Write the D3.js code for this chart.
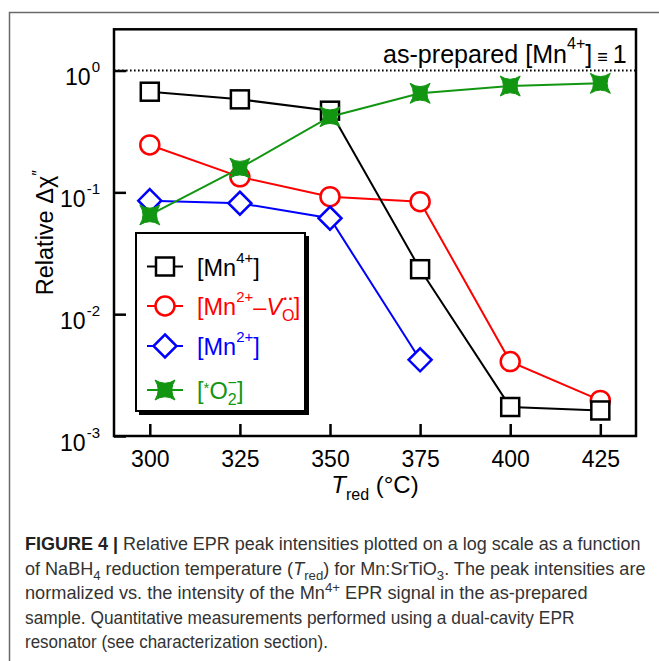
<!DOCTYPE html>
<html>
<head>
<meta charset="utf-8">
<script src="https://cdn.jsdelivr.net/npm/d3@7"></script>
<style>
  html, body { margin: 0; padding: 0; background: #fff; }
  svg { display: block; }
  text { font-family: "Liberation Sans", Arial, Helvetica, sans-serif; }
</style>
</head>
<body>
<div id="chart"></div>
<script>
// ---------- data ----------
const temps = [300, 325, 350, 375, 400, 425];
const mn4 = [0.670, 0.580, 0.468, 0.0234, 0.00173, 0.00162];
const mn2V = [0.245, 0.134, 0.0922, 0.0839, 0.00408, 0.00196];
const mn2 = [0.0855, 0.0814, 0.0613, 0.00422];
const o2 = [0.0653, 0.158, 0.418, 0.650, 0.746, 0.785];
const xTicks = [300, 325, 350, 375, 400, 425];
const yTicks = [1, 0.1, 0.01, 0.001];
const yTickExp = ["0", "-1", "-2", "-3"];
const referenceLevel = 1;

const W = 659, H = 661;
const svg = d3.select("#chart").append("svg").attr("width", W).attr("height", H);

// horizontally fit a text (built at x=0) into a target width starting at x0
function fitText(t, x0, y0, target) {
  const w = t.node().getBBox().width;
  t.attr("x", 0).attr("y", 0)
    .attr("transform", `translate(${x0},${y0}) scale(${target / w},1)`);
}

// outer figure frame (clipped by the viewport on right/bottom)
svg.append("rect").attr("x", 9.5).attr("y", 12.5).attr("width", 700).attr("height", 700)
  .attr("fill", "none").attr("stroke", "#6a6a6a").attr("stroke-width", 1.5);

const plot = { l: 114, r: 636, t: 29.3, b: 436 };
const x = d3.scaleLinear().domain([290.07, 434.9]).range([plot.l, plot.r]);
const y = d3.scaleLog().domain([1e-3, 2.18]).range([plot.b, plot.t]);

// dotted reference line
svg.append("line").attr("x1", plot.l).attr("x2", plot.r)
  .attr("y1", y(referenceLevel)).attr("y2", y(referenceLevel))
  .attr("stroke", "#000").attr("stroke-width", 2).attr("stroke-dasharray", "1.6,2.4");

// annotation
const ann = svg.append("text").attr("font-size", 25).attr("fill", "#000");
ann.append("tspan").text("as-prepared [Mn");
ann.append("tspan").attr("dy", -14).attr("font-size", 16).text("4+");
ann.append("tspan").attr("dy", 14).text("]");
ann.append("tspan").attr("font-size", 18).text(" \u2261 ");
ann.append("tspan").text("1");
fitText(ann, 383, 63, 244);

// axes
const xAxis = d3.axisBottom(x).tickValues(xTicks).tickSize(-12).tickFormat(d3.format("d"));
const gx = svg.append("g").attr("transform", `translate(0,${plot.b})`).call(xAxis);
gx.select(".domain").remove();
gx.selectAll(".tick line").attr("stroke", "#000").attr("stroke-width", 2.5);
gx.selectAll(".tick text").attr("y", 31).attr("dy", null)
  .attr("font-size", 23).attr("fill", "#000")
  .attr("font-family", "'Liberation Sans', Arial, sans-serif");

const yAxis = d3.axisLeft(y).tickValues(yTicks).tickSize(-12).tickFormat("");
const gy = svg.append("g").attr("transform", `translate(${plot.l},0)`).call(yAxis);
gy.select(".domain").remove();
gy.selectAll(".tick line").attr("stroke", "#000").attr("stroke-width", 2.5);
gy.selectAll(".tick text").remove();
gy.selectAll(".tick").each(function (d, i) {
  const t = d3.select(this).append("text")
    .attr("x", -14).attr("y", 14).attr("text-anchor", "end")
    .attr("font-size", 23).attr("fill", "#000")
    .attr("font-family", "'Liberation Sans', Arial, sans-serif");
  t.append("tspan").text("10");
  t.append("tspan").attr("dy", -13).attr("dx", 1).attr("font-size", 15).text(yTickExp[i]);
});

// axis titles
const xl = svg.append("text").attr("x", 375).attr("y", 493).attr("text-anchor", "middle")
  .attr("font-size", 24).attr("fill", "#000");
xl.append("tspan").attr("font-style", "italic").text("T");
xl.append("tspan").attr("dy", 7).attr("font-size", 16).text("red");
xl.append("tspan").attr("dy", -7).text(" (\u00B0C)");

const yl = svg.append("text").attr("transform", `translate(53,${(plot.t + plot.b) / 2}) rotate(-90)`)
  .attr("text-anchor", "middle").attr("font-size", 23.5).attr("fill", "#000");
yl.append("tspan").text("Relative \u0394\u03C7");
yl.append("tspan").attr("dy", -9).attr("font-size", 16).text("\u2033");

// marker shapes
function starPath(r) {
  const c = r * 0.35;
  return `M${-r},${-r} Q0,${-c} ${r},${-r} Q${c},0 ${r},${r} Q0,${c} ${-r},${r} Q${-c},0 ${-r},${-r} Z`;
}
function drawMarker(g, kind, color) {
  if (kind === "square") {
    g.append("rect").attr("x", -9).attr("y", -9).attr("width", 18).attr("height", 18)
      .attr("fill", "#fff").attr("stroke", color).attr("stroke-width", 2.5);
  } else if (kind === "circle") {
    g.append("circle").attr("r", 9.5).attr("fill", "#fff").attr("stroke", color).attr("stroke-width", 2.5);
  } else if (kind === "diamond") {
    g.append("path").attr("d", "M0,-11.5 L11.5,0 L0,11.5 L-11.5,0 Z")
      .attr("fill", "#fff").attr("stroke", color).attr("stroke-width", 2.5);
  } else {
    g.append("path").attr("d", starPath(10)).attr("fill", color).attr("stroke", color).attr("stroke-width", 1);
  }
}

const series = [
  { key: "mn2V", vals: mn2V, color: "#ff0000", kind: "circle" },
  { key: "mn2", vals: mn2, color: "#0000ff", kind: "diamond" },
  { key: "mn4", vals: mn4, color: "#000000", kind: "square" },
  { key: "o2", vals: o2, color: "#129612", kind: "star" }
];
const line = d3.line().x(d => x(d[0])).y(d => y(d[1]));
series.forEach(s => {
  const pts = s.vals.map((v, i) => [temps[i], v]);
  svg.append("path").attr("d", line(pts)).attr("fill", "none")
    .attr("stroke", s.color).attr("stroke-width", 2);
  pts.forEach(p => {
    const g = svg.append("g").attr("transform", `translate(${x(p[0])},${y(p[1])})`);
    drawMarker(g, s.kind, s.color);
  });
});

// plot frame
svg.append("rect").attr("x", plot.l).attr("y", plot.t).attr("width", plot.r - plot.l).attr("height", plot.b - plot.t)
  .attr("fill", "none").attr("stroke", "#000").attr("stroke-width", 2.5);

// legend
const lg = svg.append("g");
lg.append("rect").attr("x", 139).attr("y", 236).attr("width", 170).attr("height", 179).attr("fill", "#000");
lg.append("rect").attr("x", 136).attr("y", 233).attr("width", 169).attr("height", 178)
  .attr("fill", "#fff").attr("stroke", "#000").attr("stroke-width", 2);
const legendRows = [
  { s: series[2], y: 266.5 },
  { s: series[0], y: 306 },
  { s: series[1], y: 346 },
  { s: series[3], y: 390 }
];
legendRows.forEach((r, i) => {
  lg.append("line").attr("x1", 147).attr("x2", 183).attr("y1", r.y).attr("y2", r.y)
    .attr("stroke", r.s.color).attr("stroke-width", 2);
  const g = lg.append("g").attr("transform", `translate(165,${r.y})`);
  drawMarker(g, r.s.kind, r.s.color);
  const t = lg.append("text").attr("x", 197).attr("y", r.y + 9).attr("font-size", 23.5).attr("fill", r.s.color);
  if (r.s.key === "mn4") {
    t.append("tspan").text("[Mn");
    t.append("tspan").attr("dy", -13).attr("font-size", 15).text("4+");
    t.append("tspan").attr("dy", 13).text("]");
  } else if (r.s.key === "mn2V") {
    t.append("tspan").text("[Mn");
    t.append("tspan").attr("dy", -13).attr("font-size", 15).text("2+");
    t.append("tspan").attr("dy", 13).text("\u2013");
    t.append("tspan").attr("font-style", "italic").text("V");
    t.append("tspan").attr("dy", 6).attr("font-size", 16).text("O");
    t.append("tspan").attr("dx", -11.5).attr("dy", -17).attr("font-size", 16).attr("font-weight", "bold").text("\u00B7\u00B7");
    t.append("tspan").attr("dx", 0).attr("dy", 11).text("]");
  } else if (r.s.key === "mn2") {
    t.append("tspan").text("[Mn");
    t.append("tspan").attr("dy", -13).attr("font-size", 15).text("2+");
    t.append("tspan").attr("dy", 13).text("]");
  } else {
    t.append("tspan").text("[");
    t.append("tspan").attr("dy", -6).attr("font-size", 15).text("*");
    t.append("tspan").attr("dy", 6).text("O");
    t.append("tspan").attr("dy", 6).attr("font-size", 16).text("2");
    t.append("tspan").attr("dx", -9).attr("dy", -17).attr("font-size", 16).text("\u2212");
    t.append("tspan").attr("dy", 11).text("]");
  }
});

// caption
const captionLines = [
  { y: 550, w: 616, parts: [["FIGURE 4 | ", "b"], ["Relative EPR peak intensities plotted on a log scale as a function", ""]] },
  { y: 574.5, w: 621, parts: [["of NaBH", ""], ["4", "sub"], [" reduction temperature (", ""], ["T", "i"], ["red", "sub"], [") for Mn:SrTiO", ""], ["3", "sub"], [". The peak intensities are", ""]] },
  { y: 599, w: 563, parts: [["normalized vs. the intensity of the Mn", ""], ["4+", "sup"], [" EPR signal in the as-prepared", ""]] },
  { y: 623.5, w: 550, parts: [["sample. Quantitative measurements performed using a dual-cavity EPR", ""]] },
  { y: 648, w: 303, parts: [["resonator (see characterization section).", ""]] }
];
captionLines.forEach(L => {
  const t = svg.append("text").attr("font-size", 18.5).attr("fill", "#333");
  let shift = 0;
  L.parts.forEach(([txt, st]) => {
    const ts = t.append("tspan").text(txt);
    let target = 0;
    if (st === "b") ts.attr("font-weight", "bold").attr("fill", "#222");
    if (st === "i") ts.attr("font-style", "italic");
    if (st === "sub") { target = 5; ts.attr("font-size", 13.5); }
    if (st === "sup") { target = -7; ts.attr("font-size", 13.5); }
    if (target !== shift) { ts.attr("dy", target - shift); shift = target; }
  });
  fitText(t, 25, L.y, L.w);
});
</script>
</body>
</html>
